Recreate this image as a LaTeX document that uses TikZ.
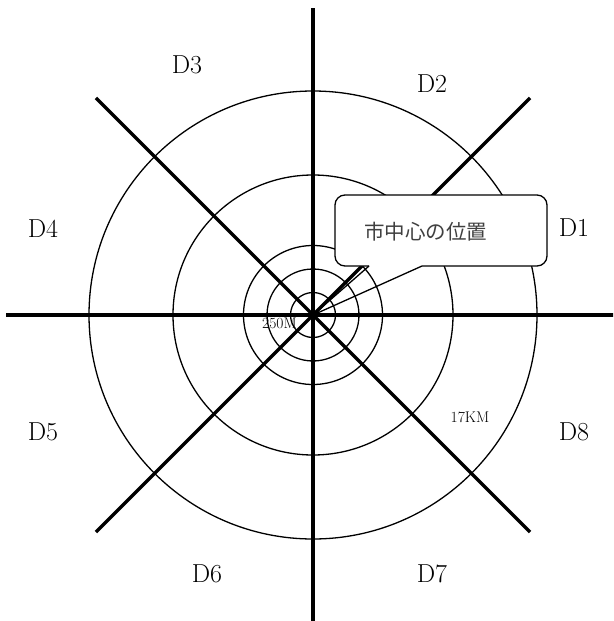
\documentclass[tikz,border=0pt]{standalone}
\usepackage{fontspec}
\newfontfamily\jpfont{Noto Sans CJK JP}
\usetikzlibrary{positioning,calc}
\tikzset{
  ring/.style={line width=1.3pt},
  axis/.style={line width=3.4pt},
  dlabel/.style={font=\fontsize{26}{30}\selectfont, inner sep=0pt},
  distlabel/.style={font=\fontsize{15.5}{18}\selectfont, inner sep=0pt},
  callout/.style={line width=1.3pt, rounded corners=10pt},
  calloutfill/.style={fill=white, rounded corners=10pt},
  calloutlabel/.style={font=\jpfont\fontsize{20.5}{24}\selectfont, text=black!75, inner sep=0pt}
}

\begin{document}
\begin{tikzpicture}[x=1pt, y=-1pt]
\useasboundingbox (0,0) rectangle (613,621);

\coordinate (centre) at (313,315);

%% ===========================================================================
%% distance rings
%% ===========================================================================
\foreach \r in {22.5,46,69.5,140,224}
  \draw[ring] (centre) circle[radius=\r];

\node[distlabel] (near) at (279.5,323) {250M};

%% ===========================================================================
%% eight sectors
%% ===========================================================================
\begin{scope}
  \clip (0,0) rectangle (613,621);
  \foreach \a in {0,45,90,135}
    \draw[axis] ($(centre)+(\a+180:307)$) -- ($(centre)+(\a:307)$);
\end{scope}

%% ===========================================================================
%% callout
%% ===========================================================================
\coordinate (baseL) at (369,266);
\coordinate (baseR) at (422,266);
\fill[calloutfill] (335,195) rectangle (547,266);
\draw[callout] (baseL) -- (335,266) -- (335,195) -- (547,195) -- (547,266) -- (baseR);
\draw[ring] (baseL) -- (centre) -- (baseR);
\node[calloutlabel] (city) at (425.5,232) {市中心の位置};

%% sector labels
\node[dlabel] (d1) at (574,228) {D1};
\node[dlabel] (d2) at (432,84)  {D2};
\node[dlabel] (d3) at (187,65)  {D3};
\node[dlabel] (d4) at (43,229)  {D4};
\node[dlabel] (d5) at (43,432)  {D5};
\node[dlabel] (d6) at (207,574) {D6};
\node[dlabel] (d7) at (432,574) {D7};
\node[dlabel] (d8) at (574,432) {D8};

\node[distlabel] (far) at (470,417) {17KM};

\end{tikzpicture}
\end{document}
